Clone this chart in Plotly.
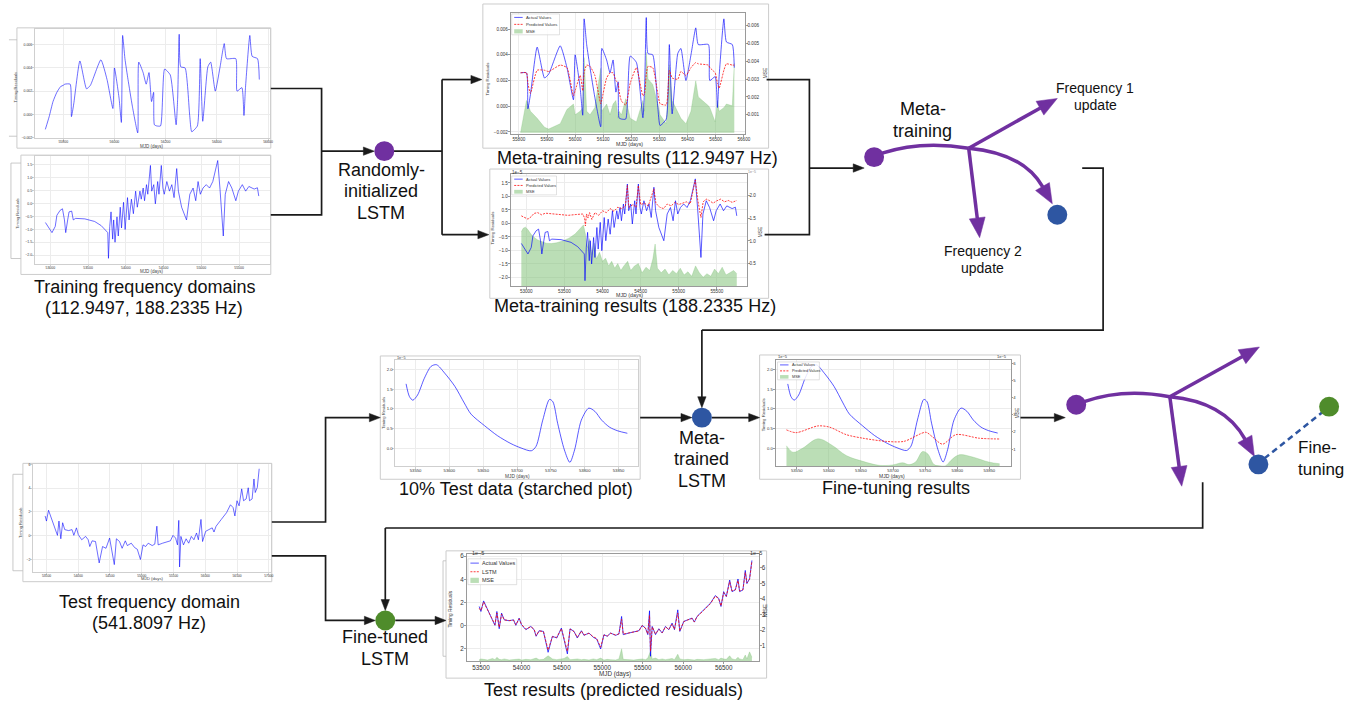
import math
import plotly.graph_objects as go

# ======================= DATA =======================
# 112.9497 Hz training data (MJD, timing residual [s]) – also the "actual" series of meta-training plot 1
f1_pre_mjd = [55730, 55745, 55760, 55775, 55790, 55800]
f1_pre_res = [-0.0013, -0.0002, 0.0011, 0.0019, 0.0024, 0.0025]
f1_mjd = [55806, 55827, 55832, 55841, 55865, 55891, 55906, 55947, 55971, 55994,
          56000, 56018, 56027, 56032, 56041, 56053, 56070, 56091, 56095, 56112,
          56124, 56135, 56145, 56153, 56156, 56165, 56180, 56196, 56218, 56241,
          56247, 56253, 56259, 56276, 56294, 56302, 56324, 56335, 56345, 56365,
          56376, 56394, 56412, 56429, 56438, 56474, 56479, 56498, 56506, 56512,
          56529, 56538, 56559, 56566]
f1_res = [0.0026, 0.0026, -0.0002, 0.0009, 0.0046, 0.0022, 0.0025, 0.0047, 0.0030, 0.0005,
          0.0040, 0.0014, -0.0007, 0.0068, 0.0048, 0.0030, 0.0007, -0.0016, 0.0045, 0.0036,
          0.0026, 0.0036, 0.0011, 0.0019, -0.0009, -0.0010, -0.0010, 0.0039, 0.0034, -0.0009,
          0.0014, 0.0069, 0.0041, 0.0040, -0.0001, -0.0015, -0.0010, 0.0048, -0.0006, 0.0041,
          0.0045, 0.0020, 0.0040, 0.0061, 0.0048, 0.0048, 0.0020, 0.0023, -0.0001, 0.0023,
          0.0068, 0.0050, 0.0048, 0.0030]
f1_pred = [0.0026, 0.0026, 0.0018, 0.0010, 0.0028, 0.0028, 0.0027, 0.0032, 0.0030, 0.0008,
           0.0012, 0.0024, 0.0012, 0.0026, 0.0032, 0.0031, 0.0024, 0.0002, 0.0005, 0.0022,
           0.0026, 0.0026, 0.0020, 0.0018, 0.0012, 0.0004, 0.0001, 0.0018, 0.0030, 0.0008,
           0.0010, 0.0025, 0.0031, 0.0030, 0.0010, 0.0002, 0.0001, 0.0028, 0.0022, 0.0021,
           0.0027, 0.0024, 0.0030, 0.0034, 0.0033, 0.0032, 0.0030, 0.0026, 0.0018, 0.0014,
           0.0028, 0.0033, 0.0032, 0.0032]
f1_mse = [0.0000, 0.0018, 0.0016, 0.0012, 0.0008, 0.0003, 0.0002, 0.0005, 0.0013, 0.0016,
          0.0010, 0.0012, 0.0014, 0.0042, 0.0012, 0.0010, 0.0014, 0.0036, 0.0012, 0.0016,
          0.0010, 0.0016, 0.0018, 0.0008, 0.0012, 0.0010, 0.0019, 0.0008, 0.0006, 0.0018,
          0.0012, 0.0045, 0.0030, 0.0027, 0.0016, 0.0010, 0.0005, 0.0038, 0.0018, 0.0012,
          0.0008, 0.0005, 0.0012, 0.0029, 0.0020, 0.0015, 0.0014, 0.0006, 0.0018, 0.0012,
          0.0014, 0.0016, 0.0015, 0.0039]

# 188.2335 Hz training data (units of 1e-5 s)
f2_mjd = [52935, 52978, 53022, 53065, 53087, 53130, 53161, 53187, 53204, 53230,
          53248, 53283, 53304, 53335, 53457, 53587, 53674, 53761, 53770, 53787,
          53804, 53826, 53839, 53857, 53883, 53900, 53926, 53943, 53970, 53991,
          54022, 54043, 54074, 54100, 54130, 54152, 54187, 54204, 54230, 54248,
          54274, 54291, 54326, 54343, 54370, 54391, 54422, 54439, 54470, 54491,
          54509, 54543, 54578, 54609, 54639, 54674, 54696, 54739, 54804, 54848,
          54891, 54926, 54957, 54987, 55022, 55065, 55109, 55152, 55217, 55248,
          55291, 55317, 55361, 55404, 55457, 55491, 55543, 55587, 55630, 55700,
          55743, 55761]
f2_res = [-0.74, -0.95, -1.13, -0.89, -0.46, -0.27, -0.21, -0.64, -1.13, -0.64,
          -0.33, -0.30, -0.64, -0.58, -0.60, -0.70, -0.86, -1.13, -2.12, -0.89,
          -0.33, -1.38, -0.64, -1.50, -0.52, -1.26, -0.15, -0.95, 0.04, -1.01,
          0.22, -0.64, 0.16, -0.40, 0.47, -0.15, 0.47, 0.16, 0.59, 0.10,
          0.72, 0.35, 1.46, 0.47, 0.72, -0.02, 0.84, 0.35, 1.46, 0.59,
          0.35, 0.84, 0.47, 0.72, 0.22, 1.34, 0.47, -0.15, -0.64, 0.35,
          0.59, 0.10, 0.84, 0.35, 0.59, 0.72, 0.59, 0.84, 1.65, 0.53,
          -1.26, 0.35, 0.84, 0.59, 0.10, 0.47, 0.72, 0.47, 0.65, 0.55,
          0.60, 0.28]
f2_pred_mjd = [52935, 52980, 53022, 53065, 53100, 53150, 53200, 53250, 53350, 53450,
               53550, 53650, 53740, 53765, 53775, 53790, 53810, 53830, 53860, 53900,
               53950, 54000, 54050, 54100, 54150, 54200, 54250, 54300, 54326, 54345,
               54400, 54440, 54470, 54500, 54550, 54600, 54674, 54700, 54750, 54800,
               54850, 54900, 54950, 55000, 55050, 55100, 55150, 55217, 55250, 55291,
               55320, 55360, 55400, 55450, 55500, 55550, 55600, 55650, 55700, 55761]
f2_pred = [0.28, 0.22, 0.16, 0.25, 0.37, 0.40, 0.32, 0.38, 0.35, 0.33,
           0.30, 0.33, 0.35, 0.20, -0.09, 0.35, 0.20, 0.40, 0.15, 0.40,
           0.30, 0.47, 0.40, 0.55, 0.45, 0.60, 0.55, 0.65, 1.40, 0.60,
           0.70, 0.60, 1.40, 0.70, 0.75, 0.65, 1.28, 0.75, 0.60, 0.55,
           0.72, 0.65, 0.78, 0.70, 0.75, 0.80, 0.72, 1.60, 0.85, 0.22,
           0.80, 0.90, 0.85, 0.75, 0.84, 0.90, 0.80, 0.85, 0.78, 0.85]
f2_mse_mjd = [52935, 52960, 52990, 53020, 53060, 53100, 53150, 53200, 53260, 53330,
              53400, 53480, 53560, 53640, 53700, 53750, 53775, 53800, 53830, 53860,
              53890, 53920, 53960, 54000, 54040, 54080, 54120, 54160, 54200, 54240,
              54280, 54330, 54370, 54420, 54470, 54520, 54570, 54620, 54660, 54690,
              54720, 54770, 54820, 54870, 54920, 54970, 55020, 55070, 55120, 55170,
              55220, 55270, 55320, 55370, 55420, 55470, 55520, 55570, 55620, 55670,
              55720, 55761]
f2_mse = [1.20, 1.28, 1.30, 1.25, 1.15, 1.08, 1.02, 0.98, 0.95, 0.94,
          0.96, 1.00, 1.06, 1.15, 1.25, 1.35, 1.15, 0.85, 1.05, 0.70,
          0.95, 0.60, 0.75, 0.55, 0.62, 0.45, 0.55, 0.40, 0.50, 0.35,
          0.45, 0.55, 0.35, 0.45, 0.50, 0.30, 0.42, 0.35, 0.60, 0.93,
          0.40, 0.30, 0.38, 0.25, 0.35, 0.28, 0.40, 0.25, 0.32, 0.22,
          0.45, 0.30, 0.20, 0.28, 0.22, 0.38, 0.28, 0.42, 0.25, 0.30,
          0.35, 0.28]

# 10 % test data (units of 1e-5 s)
t10_mjd = [53536, 53541, 53546, 53553, 53563, 53573, 53581, 53593, 53608, 53622,
           53632, 53652, 53671, 53691, 53706, 53721, 53728, 53738, 53748, 53753,
           53760, 53770, 53778, 53785, 53795, 53806, 53815, 53825, 53837, 53849,
           53863]
t10_res = [1.63, 1.31, 1.22, 1.35, 1.77, 2.07, 2.11, 1.90, 1.57, 1.15,
           0.87, 0.58, 0.33, 0.13, 0.02, -0.05, 0.06, 0.72, 1.24, 1.18,
           0.64, -0.03, -0.34, -0.03, 0.72, 1.02, 0.94, 0.72, 0.54, 0.45,
           0.39]
ft_pred_mjd = [53534, 53549, 53583, 53601, 53627, 53653, 53689, 53717, 53751, 53761,
               53777, 53798, 53834, 53866]
ft_pred = [0.47, 0.40, 0.57, 0.54, 0.35, 0.26, 0.18, 0.18, 0.41, 0.30,
           0.11, 0.35, 0.26, 0.24]
ft_mse_mjd = [53534, 53544, 53559, 53583, 53606, 53627, 53653, 53678, 53699, 53715,
              53725, 53735, 53746, 53754, 53764, 53772, 53782, 53790, 53803, 53824,
              53849, 53866]
ft_mse = [1.20, 0.82, 1.05, 1.60, 1.20, 0.63, 0.29, 0.06, 0.08, 0.21,
          0.10, 0.25, 0.86, 0.73, 0.10, 0.04, 0.04, 0.34, 0.67, 0.54,
          0.25, 0.15]

# 541.8097 Hz test data (units of 1e-5 s)
test_mjd = [53479, 53500, 53533, 53582, 53644, 53673, 53697, 53726, 53755, 53788,
            53849, 53903, 53931, 53972, 54001, 54055, 54116, 54157, 54182, 54219,
            54272, 54330, 54383, 54437, 54494, 54527, 54568, 54601, 54650, 54691,
            54741, 54773, 54835, 54888, 54930, 54979, 55020, 55061, 55102, 55164,
            55205, 55238, 55258, 55328, 55390, 55451, 55492, 55533, 55562, 55583,
            55595, 55616, 55657, 55698, 55739, 55780, 55821, 55862, 55891, 55932,
            55957, 56006, 56055, 56109, 56137, 56170, 56252, 56335, 56396, 56437,
            56466, 56499, 56532, 56573, 56602, 56643, 56676, 56696, 56737, 56766,
            56786, 56819, 56848]
test_res = [1.66, 1.23, 2.14, 1.37, 0.51, 0.03, 1.23, -0.26, 1.09, 0.51,
            0.43, 0.51, 0.03, 0.66, 0.09, -0.34, -0.06, -0.34, -0.91, -0.43,
            -0.49, -2.29, -0.91, -1.06, -0.20, -1.20, -2.43, -0.26, -0.49, -1.06,
            -0.43, -0.83, -0.63, -1.00, -1.14, -2.00, -0.77, -0.91, -0.63, -0.83,
            -0.71, 0.80, -0.77, -0.63, -0.54, -0.43, 0.03, -0.20, -0.77, 1.29,
            -2.63, -0.06, -0.77, -0.26, -0.63, -0.06, -0.34, 0.23, -0.34, 1.37,
            -0.49, 0.37, 0.51, 0.66, 0.31, 0.80, 1.37, 1.94, 2.60, 2.37,
            1.66, 2.94, 2.51, 3.94, 2.94, 3.09, 4.03, 2.94, 3.09, 4.77,
            3.63, 4.06, 5.63]
test_lstm = [1.50, 1.30, 2.05, 1.40, 0.55, 0.10, 1.10, -0.15, 1.00, 0.50,
             0.45, 0.48, 0.08, 0.60, 0.12, -0.30, -0.08, -0.30, -0.85, -0.45,
             -0.50, -2.10, -0.95, -1.00, -0.25, -1.15, -2.20, -0.30, -0.50, -1.00,
             -0.45, -0.80, -0.65, -0.95, -1.10, -1.85, -0.80, -0.88, -0.65, -0.80,
             -0.70, 0.55, -0.72, -0.62, -0.55, -0.45, 0.00, -0.22, -0.70, 0.90,
             -2.20, -0.10, -0.70, -0.30, -0.60, -0.10, -0.32, 0.15, -0.30, 1.10,
             -0.45, 0.35, 0.50, 0.62, 0.33, 0.78, 1.32, 1.90, 2.55, 2.35,
             1.70, 2.85, 2.55, 3.80, 3.00, 3.10, 3.90, 3.00, 3.10, 4.60,
             3.70, 4.00, 5.55]
test_mse = [0.10, 0.15, 0.12, 0.08, 0.18, 0.10, 0.25, 0.12, 0.10, 0.15,
            0.08, 0.12, 0.10, 0.14, 0.08, 0.12, 0.10, 0.15, 0.20, 0.10,
            0.12, 0.35, 0.15, 0.10, 0.12, 0.18, 0.30, 0.10, 0.12, 0.15,
            0.10, 0.12, 0.08, 0.15, 0.10, 0.20, 0.08, 0.12, 0.10, 0.08,
            0.15, 0.80, 0.12, 0.10, 0.08, 0.12, 0.15, 0.10, 0.20, 0.50,
            0.65, 0.15, 0.20, 0.10, 0.15, 0.10, 0.12, 0.18, 0.10, 0.45,
            0.15, 0.10, 0.12, 0.10, 0.08, 0.12, 0.10, 0.15, 0.18, 0.10,
            0.20, 0.15, 0.12, 0.35, 0.15, 0.10, 0.25, 0.15, 0.10, 0.40,
            0.15, 0.60, 0.25]

# tick values / labels
c1_xticks = [55800, 56000, 56200, 56400, 56600]
c1_yticks = [-0.002, 0.0, 0.002, 0.004, 0.006]
c1_ylabels = ["\u22120.002", "0.000", "0.002", "0.004", "0.006"]
c2_xticks = [53000, 53500, 54000, 54500, 55000, 55500]
c2_yticks = [-2.0, -1.5, -1.0, -0.5, 0.0, 0.5, 1.0, 1.5]
c2_ylabels = ["\u22122.0", "\u22121.5", "\u22121.0", "\u22120.5", "0.0", "0.5", "1.0", "1.5"]
c3_xticks = [55800, 55900, 56000, 56100, 56200, 56300, 56400, 56500, 56600]
c3_y2ticks = [0.001, 0.002, 0.003, 0.004, 0.005, 0.006]
c3_y2labels = ["0.001", "0.002", "0.003", "0.004", "0.005", "0.006"]
c4_y2ticks = [0.5, 1.0, 1.5, 2.0]
c4_y2labels = ["0.5", "1.0", "1.5", "2.0"]
c5_xticks = [53550, 53600, 53650, 53700, 53750, 53800, 53850]
c5_yticks = [0.0, 0.5, 1.0, 1.5, 2.0]
c5_ylabels = ["0.0", "0.5", "1.0", "1.5", "2.0"]
c6_xticks = [53500, 54000, 54500, 55000, 55500, 56000, 56500, 57000]
c6_yticks = [-2, 0, 2, 4, 6]
c6_ylabels = ["\u22122", "0", "2", "4", "6"]
c7_y2ticks = [1, 2, 3, 4, 5, 6]
c7_y2labels = ["1", "2", "3", "4", "5", "6"]
c8_xticks = [53500, 54000, 54500, 55000, 55500, 56000, 56500]
c8_yticks = [-2, 0, 2, 4, 6]
c8_ylabels = ["2", "0", "2", "4", "6"]
legend_meta = ["Actual Values", "Predicted Values", "MSE"]
legend_test = ["Actual Values", "LSTM", "MSE"]

# ======================= STYLE / HELPERS =======================
W, H = 1358, 702
FONT = "Liberation Sans, Arial, sans-serif"
PURPLE = "#7030A0"
NODE_BLUE = "#2E56A2"
NODE_GREEN = "#4F8C2B"
BLK = "#1a1a1a"
LBLUE = "rgba(0,0,255,0.72)"
LRED = "rgba(255,0,0,0.85)"
GFILL = "rgba(120,190,110,0.5)"
GLINE = "rgba(120,190,110,0.7)"


def X(p):
    return p / W


def Y(p):
    return 1 - p / H


shapes, annotations, layout_axes = [], [], {}
fig = go.Figure()


def text(s, x, y, size, rot=0, color="#111111", xanchor="center", yanchor="middle"):
    annotations.append(dict(text=s, x=X(x), y=Y(y), xref="paper", yref="paper", showarrow=False,
                            font=dict(family=FONT, size=size, color=color), textangle=rot,
                            xanchor=xanchor, yanchor=yanchor, borderpad=0))


def rect(x0, y0, x1, y1, color="#cccccc", width=1.0, fill="rgba(0,0,0,0)", layer="below"):
    shapes.append(dict(type="rect", xref="paper", yref="paper", x0=X(x0), x1=X(x1), y0=Y(y1), y1=Y(y0),
                       line=dict(color=color, width=width), fillcolor=fill, layer=layer))


def poly(points, color=BLK, width=1.7, dash="solid", layer="above"):
    d = "M " + " L ".join(f"{X(a):.6f},{Y(b):.6f}" for a, b in points)
    shapes.append(dict(type="path", path=d, xref="paper", yref="paper",
                       line=dict(color=color, width=width, dash=dash), layer=layer))


def head(tip, frm, L, w, color):
    dx, dy = tip[0] - frm[0], tip[1] - frm[1]
    n = math.hypot(dx, dy)
    ux, uy = dx / n, dy / n
    bx, by = tip[0] - L * ux, tip[1] - L * uy
    nx, ny = -uy, ux
    pts = [tip, (bx + w * nx, by + w * ny), (bx - w * nx, by - w * ny)]
    d = "M " + " L ".join(f"{X(a):.6f},{Y(b):.6f}" for a, b in pts) + " Z"
    shapes.append(dict(type="path", path=d, xref="paper", yref="paper", fillcolor=color,
                       line=dict(color=color, width=0.5), layer="above"))
    return (bx + 0.5 * ux, by + 0.5 * uy)


def arrow(points, L=11, w=4.2, color=BLK, width=1.7):
    base = head(points[-1], points[-2], L, w, color)
    poly(points[:-1] + [base], color, width)


def qarrow(p0, c, tip, L, w, color, width):
    base = head(tip, c, L, w, color)
    d = (f"M {X(p0[0]):.6f},{Y(p0[1]):.6f} Q {X(c[0]):.6f},{Y(c[1]):.6f} "
         f"{X(base[0]):.6f},{Y(base[1]):.6f}")
    shapes.append(dict(type="path", path=d, xref="paper", yref="paper",
                       line=dict(color=color, width=width), layer="above"))


def qcurve(p0, c, p1, color, width):
    d = (f"M {X(p0[0]):.6f},{Y(p0[1]):.6f} Q {X(c[0]):.6f},{Y(c[1]):.6f} "
         f"{X(p1[0]):.6f},{Y(p1[1]):.6f}")
    shapes.append(dict(type="path", path=d, xref="paper", yref="paper",
                       line=dict(color=color, width=width), layer="above"))


def circle(cx, cy, r, color):
    shapes.append(dict(type="circle", xref="paper", yref="paper", x0=X(cx - r), x1=X(cx + r),
                       y0=Y(cy + r), y1=Y(cy - r), fillcolor=color, line=dict(color=color, width=0),
                       layer="above"))


def axes(i, box, xr, xt, yr, yt, ytl, fs, spine, grid, ri=None, yr2=None, yt2=None, ytl2=None):
    x0, y0, x1, y1 = box
    common = dict(showline=True, linecolor=spine, linewidth=0.8, ticks="outside", ticklen=2,
                  tickwidth=0.6, tickcolor=spine, zeroline=False, fixedrange=True,
                  tickfont=dict(family=FONT, size=fs, color="#333333"),
                  showgrid=True, gridcolor=grid, gridwidth=0.6, ticklabelstandoff=-1)
    layout_axes[f"xaxis{i}"] = dict(common, domain=[X(x0), X(x1)], range=xr, tickvals=xt,
                                    ticktext=[str(v) for v in xt], anchor=f"y{i}", mirror=True,
                                    ticklabelstandoff=-2)
    if ri is None:
        layout_axes[f"yaxis{i}"] = dict(common, domain=[Y(y1), Y(y0)], range=yr, tickvals=yt,
                                        ticktext=ytl, anchor=f"x{i}", mirror=True)
    else:
        layout_axes[f"yaxis{i}"] = dict(common, domain=[Y(y1), Y(y0)], range=yr2, tickvals=yt2,
                                        ticktext=ytl2, anchor=f"x{i}", side="right", showgrid=False)
        layout_axes[f"yaxis{ri}"] = dict(common, domain=[Y(y1), Y(y0)], range=yr, tickvals=yt,
                                         ticktext=ytl, anchor=f"x{i}", side="left",
                                         overlaying=f"y{i}")


def line_tr(x, y, xa, ya, color, width=0.9, dash="solid", shape="linear", smoothing=0.6):
    ln = dict(color=color, width=width, dash=dash, shape=shape)
    if shape == "spline":
        ln["smoothing"] = smoothing
    fig.add_trace(go.Scatter(x=x, y=y, xaxis=xa, yaxis=ya, mode="lines", line=ln,
                             showlegend=False, hoverinfo="skip"))


def area_tr(x, y, xa, ya, shape="linear"):
    fig.add_trace(go.Scatter(x=x, y=y, xaxis=xa, yaxis=ya, mode="lines", fill="tozeroy",
                             fillcolor=GFILL, line=dict(color=GLINE, width=0.4, shape=shape),
                             showlegend=False, hoverinfo="skip"))


def legend_box(box, labels, fs):
    x0, y0, x1, y1 = box
    rect(x0, y0, x1, y1, color="#cccccc", width=0.6, fill="rgba(255,255,255,0.85)", layer="above")
    h = (y1 - y0) / len(labels)
    kinds = ["blue", "red", "bar"]
    for k, lab in enumerate(labels):
        yc = y0 + h * (k + 0.5)
        if kinds[k] == "bar":
            rect(x0 + 2.5, yc - h * 0.3, x0 + 11, yc + h * 0.3, color="rgba(0,0,0,0)", width=0,
                 fill=GFILL, layer="above")
        elif kinds[k] == "red":
            poly([(x0 + 2.5, yc), (x0 + 11, yc)], color=LRED, width=0.9, dash="2px,1.2px")
        else:
            poly([(x0 + 2.5, yc), (x0 + 11, yc)], color=LBLUE, width=0.9)
        text(lab, x0 + 13.5, yc, fs, xanchor="left", color="#333333")


# ======================= PANELS =======================
SP_LIGHT = "#cfcfcf"
SP_DARK = "#9a9a9a"
GRID = "#ececec"

# --- chart 1: 112.9497 Hz training data ---
rect(17, 26, 272, 147)
poly([(9, 38), (17, 38)], color="#bbbbbb", width=0.8, layer="below")
poly([(9, 135), (17, 135)], color="#bbbbbb", width=0.8, layer="below")
axes(2, (35, 27, 271, 137), [55689, 56607], c1_xticks, [-0.00206, 0.00737], c1_yticks, c1_ylabels,
     3.5, SP_LIGHT, GRID)
line_tr(f1_pre_mjd + f1_mjd, f1_pre_res + f1_res, "x2", "y2", LBLUE, 0.8, shape="spline", smoothing=0.5)
text("Timing Residuals", 16, 85, 4, rot=-90, color="#444444")
text("MJD (days)", 153, 145, 4.5, color="#444444")

# --- chart 2: 188.2335 Hz training data ---
rect(21, 154, 272, 274)
poly([(21, 162), (11, 162), (11, 258), (21, 258)], color="#bbbbbb", width=0.8, layer="below")
axes(3, (35, 155, 271, 263), [52795, 55907], c2_xticks, [-2.32, 1.82], c2_yticks, c2_ylabels,
     3.5, SP_LIGHT, GRID)
line_tr(f2_mjd, f2_res, "x3", "y3", LBLUE, 0.8)
text("Timing Residuals", 18, 212, 4, rot=-90, color="#444444")
text("MJD (days)", 153, 271, 4.5, color="#444444")

# --- chart 3: meta-training results 112.9497 Hz ---
rect(485, 2, 772, 147)
axes(4, (513, 11, 748, 133), [55771, 56603], c3_xticks, [-0.00218, 0.00726], c1_yticks, c1_ylabels,
     4.6, SP_DARK, GRID, ri=10, yr2=[-0.00009, 0.0067], yt2=c3_y2ticks, ytl2=c3_y2labels)
area_tr(f1_mjd, f1_mse, "x4", "y4")
line_tr(f1_mjd, f1_res, "x4", "y10", LBLUE, 0.9, shape="spline", smoothing=0.5)
line_tr(f1_mjd, f1_pred, "x4", "y10", LRED, 0.9, dash="2px,1.2px", shape="spline", smoothing=0.5)
legend_box((514, 12, 562, 33), legend_meta, 4.2)
text("Timing Residuals", 490, 77, 4.3, rot=-90, color="#333333")
text("MSE", 769, 72, 4.8, rot=-90, color="#333333")
text("MJD (days)", 632, 143, 5.3, color="#333333")

# --- chart 4: meta-training results 188.2335 Hz ---
rect(492, 168, 772, 298)
axes(5, (513, 173, 750, 286), [52796, 55891], c2_xticks, [-2.33, 1.83], c2_yticks, c2_ylabels,
     4.6, SP_DARK, GRID, ri=11, yr2=[0, 2.47], yt2=c4_y2ticks, ytl2=c4_y2labels)
area_tr(f2_mse_mjd, f2_mse, "x5", "y5")
line_tr(f2_mjd, f2_res, "x5", "y11", LBLUE, 0.9)
line_tr(f2_pred_mjd, f2_pred, "x5", "y11", LRED, 0.9, dash="2px,1.2px")
legend_box((514, 175, 559, 194), legend_meta, 4.0)
text("1e\u22125", 513, 171, 4.5, xanchor="left", color="#333333")
text("1e\u22125", 760, 171, 3.5, xanchor="right", color="#888888")
text("Timing Residuals", 495, 227, 4.3, rot=-90, color="#333333")
text("MSE", 764, 232, 4.8, rot=-90, color="#333333")
text("MJD (days)", 632, 295, 5.3, color="#333333")

# --- chart 5: 10% test data ---
rect(382, 356, 643, 480)
axes(6, (397, 360, 641, 467), [53520, 53879], c5_xticks, [-0.44, 2.23], c5_yticks, c5_ylabels,
     4.2, SP_LIGHT, GRID)
line_tr(t10_mjd, t10_res, "x6", "y6", LBLUE, 0.9, shape="spline", smoothing=0.8)
text("1e\u22125", 398, 358, 3.8, xanchor="left", color="#444444")
text("Timing Residuals", 385, 413, 4.2, rot=-90, color="#444444")
text("MJD (days)", 520, 477, 4.8, color="#444444")

# --- chart 6: 541.8097 Hz test data ---
rect(23, 464, 273, 583)
poly([(23, 475), (13, 475), (13, 572), (23, 572)], color="#bbbbbb", width=0.8, layer="below")
axes(7, (33, 465, 272, 573), [53286, 57031], c6_xticks, [-3.03, 6.0], c6_yticks, c6_ylabels,
     3.3, SP_LIGHT, GRID)
line_tr(test_mjd, test_res, "x7", "y7", LBLUE, 0.8)
text("Timing Residuals", 20, 523, 4, rot=-90, color="#444444")
text("MJD (days)", 153, 580, 4.3, color="#444444")

# --- chart 7: fine-tuning results ---
rect(763, 355, 1025, 480)
axes(8, (779, 360, 1015, 467), [53517, 53883], c5_xticks, [-0.45, 2.235], c5_yticks, c5_ylabels,
     4.2, SP_DARK, GRID, ri=12, yr2=[0, 6.19], yt2=c7_y2ticks, ytl2=c7_y2labels)
area_tr(ft_mse_mjd, ft_mse, "x8", "y8", shape="spline")
line_tr(t10_mjd, t10_res, "x8", "y12", LBLUE, 0.9, shape="spline", smoothing=0.8)
line_tr(ft_pred_mjd, ft_pred, "x8", "y12", LRED, 0.9, dash="2px,1.2px", shape="spline", smoothing=0.8)
legend_box((781, 362, 823, 380), legend_meta, 3.8)
text("1e\u22125", 780, 357, 4.0, xanchor="left", color="#333333")
text("1e\u22125", 1012, 357, 4.0, xanchor="right", color="#333333")
text("Timing Residuals", 767, 415, 4.3, rot=-90, color="#333333")
text("MSE", 1022, 413, 4.8, rot=-90, color="#333333")
text("MJD (days)", 896, 477, 5.0, color="#333333")

# --- chart 8: test results ---
rect(448, 552, 770, 680)
poly([(448, 562), (445, 562), (445, 658), (448, 658)], color="#bbbbbb", width=0.8, layer="below")
axes(9, (469, 555, 762, 663), [53327, 56931], c8_xticks, [-3.06, 6.2], c8_yticks, c8_ylabels,
     6.3, SP_DARK, GRID, ri=13, yr2=[0, 6.89], yt2=c7_y2ticks, ytl2=c7_y2labels)
area_tr(test_mjd, test_mse, "x9", "y9")
line_tr(test_mjd, test_res, "x9", "y13", LBLUE, 1.0)
line_tr(test_mjd, test_lstm, "x9", "y13", LRED, 0.9, dash="2.5px,1.5px")
legend_box((470, 560, 519, 586), legend_test, 5.5)
text("1e\u22125", 473, 554, 5.5, xanchor="left", color="#333333")
text("1e\u22125", 766, 554, 5.5, xanchor="right", color="#333333")
text("Timing Residuals", 453, 610, 4.8, rot=-90, color="#333333")
text("MSE", 768, 612, 6, rot=-90, color="#333333")
text("MJD (days)", 618, 676, 6.3, color="#333333")

# ======================= CONNECTORS =======================
poly([(272, 87), (323, 87), (323, 214), (272, 214)])
arrow([(323, 150), (376, 150)])
poly([(395, 150), (444, 150)])
poly([(444, 78), (444, 234)])
arrow([(444, 78), (484, 78)])
arrow([(444, 234), (491, 234)])
poly([(770, 78), (813, 78), (813, 234), (768, 234)])
arrow([(813, 167), (868, 167)])
poly([(1087, 167), (1108, 167), (1108, 330), (705, 330)])
arrow([(705, 330), (705, 408)])
arrow([(273, 523), (327, 523), (327, 418), (382, 418)])
arrow([(273, 557), (327, 557), (327, 622), (377, 622)])
arrow([(643, 418), (695, 418)])
arrow([(715, 418), (763, 418)])
arrow([(1025, 418), (1070, 418)])
poly([(1208, 483), (1208, 529), (387, 529)])
arrow([(387, 529), (387, 612)])
arrow([(397, 622), (448, 622)])

# meta-training diagram
qcurve((886, 152), (925, 139), (973, 147), PURPLE, 3.5)
arrow([(973, 147), (1062, 97)], L=20, w=8, color=PURPLE, width=3.5)
arrow([(973, 147), (984, 237)], L=20, w=8, color=PURPLE, width=3.5)
qarrow((973, 147), (1028, 152), (1057, 203), 20, 8, PURPLE, 3.5)
circle(878, 156, 10, PURPLE)
circle(1062, 214, 10, NODE_BLUE)

# fine-tuning diagram
qcurve((1089, 402), (1128, 388), (1175, 397), PURPLE, 3.5)
arrow([(1175, 397), (1265, 347)], L=20, w=8, color=PURPLE, width=3.5)
arrow([(1175, 397), (1187, 487)], L=20, w=8, color=PURPLE, width=3.5)
qarrow((1175, 397), (1230, 402), (1260, 457), 20, 8, PURPLE, 3.5)
poly([(1270, 459), (1329, 412)], color=NODE_BLUE, width=2.5, dash="6px,4px")
circle(1081, 405, 10, PURPLE)
circle(1264, 465, 10, NODE_BLUE)
circle(1335, 407, 10, NODE_GREEN)

# nodes on the main flow
circle(386, 150, 10, PURPLE)
circle(705, 418, 10, NODE_BLUE)
circle(387, 622, 10, NODE_GREEN)

# ======================= TEXT LABELS =======================
BIG = 18
text("Training frequency domains", 145, 287, BIG)
text("(112.9497, 188.2335 Hz)", 145, 308, BIG)
text("Randomly-", 383, 169, BIG)
text("initialized", 383, 190, BIG)
text("LSTM", 383, 212, BIG)
text("Meta-training results (112.9497 Hz)", 640, 157, BIG)
text("Meta-training results (188.2335 Hz)", 638, 306, BIG)
text("Meta-", 927, 108, BIG)
text("training", 927, 130, BIG)
text("Frequency 1", 1100, 86, 14)
text("update", 1100, 104, 14)
text("Frequency 2", 987, 250, 14)
text("update", 987, 268, 14)
text("10% Test data (starched plot)", 518, 490, BIG)
text("Meta-", 705, 438, BIG)
text("trained", 705, 460, BIG)
text("LSTM", 705, 482, BIG)
text("Fine-tuning results", 900, 489, BIG)
text("Fine-", 1323, 448, 17)
text("tuning", 1327, 470, 17)
text("Test frequency domain", 150, 603, BIG)
text("(541.8097 Hz)", 150, 625, BIG)
text("Fine-tuned", 387, 639, BIG)
text("LSTM", 387, 661, BIG)
text("Test results (predicted residuals)", 616, 692, BIG)

fig.update_layout(
    width=W, height=H, margin=dict(l=0, r=0, t=0, b=0),
    paper_bgcolor="white", plot_bgcolor="white", showlegend=False,
    font=dict(family=FONT), shapes=shapes, annotations=annotations,
    xaxis=dict(visible=False), yaxis=dict(visible=False),
    **layout_axes,
)
fig.write_html("out.html", config={"displayModeBar": False},
               post_script="document.body.style.margin='0';document.body.style.overflow='hidden';")
